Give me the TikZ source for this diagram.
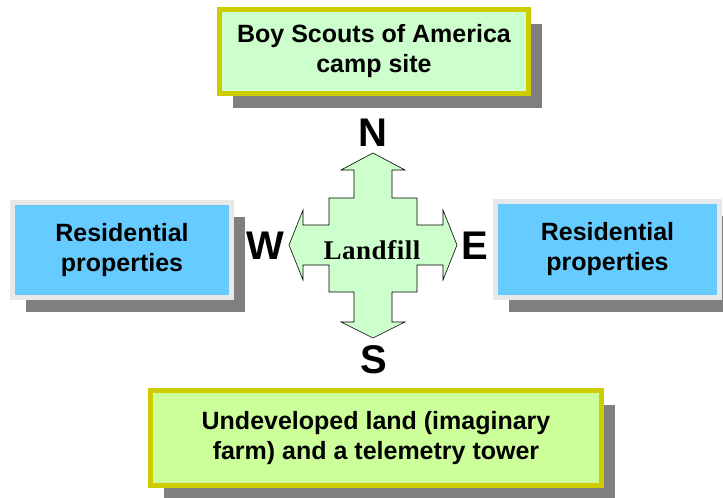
\documentclass[tikz,border=0pt]{standalone}
\usepackage{fontspec}
\setmainfont{Liberation Sans}
\newfontfamily\landfont{Liberation Serif}[LetterSpace=2]
\usetikzlibrary{shadows}
\definecolor{campgreen}{HTML}{CCFFCC}
\definecolor{farmgreen}{HTML}{CCFF99}
\definecolor{houseblue}{HTML}{66CCFF}
\definecolor{rimyellow}{HTML}{CCCC00}
\definecolor{rimgrey}{HTML}{E8E8E8}
\definecolor{shadowgrey}{HTML}{808080}
\tikzset{
site/.style={line width=5pt,align=center,inner sep=0pt,font=\fontsize{25}{30}\selectfont\bfseries,
  general shadow={fill=shadowgrey,shadow xshift=13pt,shadow yshift=-14pt}},
greenbox/.style={site,draw=rimyellow,fill=campgreen},
bluebox/.style={site,draw=rimgrey,fill=houseblue},
compass/.style={font=\fontsize{40}{40}\selectfont\bfseries,inner sep=0pt},
cross/.style={draw=black,line width=0.6pt,fill=campgreen}
}
\begin{document}
\begin{tikzpicture}[x=1pt,y=-1pt]
\useasboundingbox (0,0) rectangle (723,498);
\node[greenbox,minimum width=309pt,minimum height=84pt](camp) at (374,51.5){Boy Scouts of America\\camp site};
\node[bluebox,minimum width=219pt,minimum height=95pt](west) at (122,250){Residential\\properties};
\node[bluebox,minimum width=224pt,minimum height=96pt](east) at (607.5,249.5){Residential\\properties};
\node[greenbox,fill=farmgreen,minimum width=451pt,minimum height=95pt](farm) at (376,438){Undeveloped land (imaginary\\farm) and a telemetry tower};
% four-way arrow
\coordinate (c) at (373,245);
\draw[cross,shift={(c)}] (0,-92)--(32,-75)--(19,-75)--(19,-47)--(44,-47)--(44,-20)--(70,-20)--(70,-35)--(84,0)
  --(70,35)--(70,20)--(44,20)--(44,47)--(19,47)--(19,77)--(32,77)--(0,93)--(-32,77)--(-19,77)--(-19,47)
  --(-44,47)--(-44,20)--(-70,20)--(-70,35)--(-84,0)--(-70,-35)--(-70,-20)--(-44,-20)--(-44,-47)--(-19,-47)
  --(-19,-75)--(-32,-75)--cycle;
\node[font=\landfont\fontsize{27}{27}\selectfont\bfseries,inner sep=0pt](land) at (372,250){Landfill};
\node[compass](n) at (373,133){N};
\node[compass](w) at (265,246){W};
\node[compass](e) at (474.5,245.5){E};
\node[compass](s) at (374,360){S};
\end{tikzpicture}
\end{document}
